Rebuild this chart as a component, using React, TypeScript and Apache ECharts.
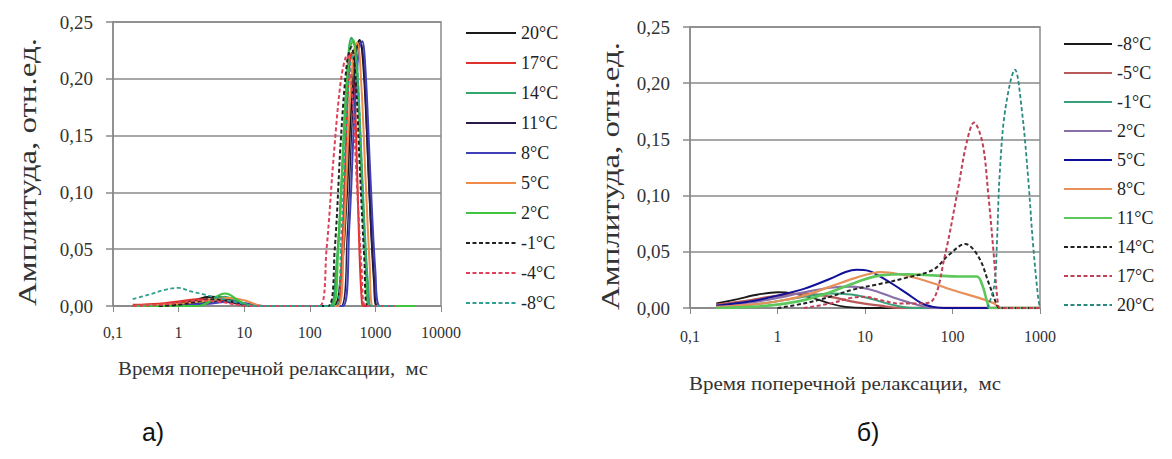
import React, { useEffect, useRef } from 'react';
import * as echarts from 'echarts';

// ---------- Chart а) ----------
const namesA = ['20°C', '17°C', '14°C', '11°C', '8°C', '5°C', '2°C', '-1°C', '-4°C', '-8°C'];
const colorsA = ['#1a1a1a', '#e0302a', '#33a86a', '#2a1a4a', '#4040b8', '#f08a4a', '#3ec43e', '#222222', '#e0405a', '#30a090'];
const dashedA = [false, false, false, false, false, false, false, true, true, true];
const widthA = [2.2, 2, 2.2, 1.4, 2, 2, 2.2, 2, 2, 1.8];

const a20 = [[0.2,0],[0.6,0.001],[1.5,0.004],[3,0.008],[5,0.007],[8,0.003],[14,0],[220,0],[290,0.02],[360,0.09],[430,0.18],[510,0.226],[575,0.234],[650,0.215],[750,0.15],[860,0.07],[960,0.02],[1060,0],[4000,0]];
const a17 = [[0.2,0.001],[0.5,0.002],[1,0.004],[2,0.006],[4,0.005],[8,0.002],[15,0],[260,0],[300,0.03],[340,0.11],[390,0.2],[430,0.223],[470,0.205],[520,0.13],[570,0.05],[620,0.005],[660,0],[4000,0]];
const a14 = [[1,0],[3,0.004],[5,0.008],[8,0.004],[12,0],[200,0],[250,0.03],[300,0.1],[360,0.19],[430,0.236],[500,0.225],[580,0.16],[680,0.07],[790,0.01],[860,0],[4000,0]];
const a11 = [[0.2,0],[2,0.002],[4,0.004],[8,0.002],[15,0],[300,0],[370,0.06],[440,0.16],[520,0.226],[600,0.232],[680,0.2],[800,0.1],[950,0.025],[1080,0],[4000,0]];
const a8 = [[0.2,0],[3,0.002],[6,0.004],[12,0.002],[20,0],[320,0],[400,0.07],[480,0.17],[560,0.226],[630,0.233],[710,0.205],[830,0.12],[1000,0.03],[1180,0],[4000,0]];
const a5 = [[0.2,0],[1,0.002],[3,0.005],[6,0.007],[10,0.005],[20,0],[270,0],[330,0.06],[400,0.17],[470,0.225],[530,0.232],[610,0.195],[710,0.11],[820,0.035],[920,0],[4000,0]];
const a2 = [[0.2,0],[2,0],[3,0.004],[4,0.009],[5,0.011],[6,0.01],[8,0.005],[11,0.001],[15,0],[220,0],[270,0.05],[330,0.15],[400,0.225],[460,0.234],[530,0.2],[620,0.11],[720,0.03],[800,0],[4000,0]];
const aM1 = [[0.5,0],[1,0.001],[2,0.004],[3,0.006],[5,0.005],[8,0.002],[12,0],[190,0],[240,0.05],[300,0.15],[370,0.215],[430,0.228],[500,0.2],[580,0.12],[680,0.04],[760,0],[2000,0]];
const aM4 = [[0.2,0],[0.5,0.001],[1,0.003],[2,0.005],[4,0.004],[8,0.001],[12,0],[140,0],[180,0.05],[230,0.13],[300,0.2],[370,0.221],[440,0.19],[520,0.11],[620,0.03],[700,0],[2000,0]];
const aM8 = [[0.2,0.006],[0.35,0.01],[0.6,0.014],[1,0.016],[1.5,0.013],[2.5,0.01],[4,0.007],[8,0.003],[15,0],[250,0],[300,0.06],[360,0.16],[420,0.215],[490,0.222],[560,0.18],[650,0.09],[760,0.02],[840,0],[2000,0]];
const dataA = [a20, a17, a14, a11, a8, a5, a2, aM1, aM4, aM8];
const ticksA = { min: 0.1, max: 10000 };

// ---------- Chart б) ----------
const namesB = ['-8°C', '-5°C', '-1°C', '2°C', '5°C', '8°C', '11°C', '14°C', '17°C', '20°C'];
const colorsB = ['#1a1a1a', '#b85a58', '#3aa07a', '#8a70a8', '#10109a', '#e8905a', '#5cc85c', '#222222', '#c04058', '#2a8a80'];
const dashedB = [false, false, false, false, false, false, false, true, true, true];
const widthB = [1.8, 2.4, 2, 2.2, 2, 2.2, 2.6, 2, 2, 1.8];

const bM8 = [[0.2,0.004],[0.35,0.008],[0.6,0.012],[1,0.014],[1.5,0.013],[2.5,0.009],[4,0.004],[6,0.001],[10,0],[1000,0]];
const bM5 = [[0.2,0.003],[0.5,0.007],[1,0.011],[2,0.013],[4,0.01],[8,0.005],[15,0.002],[25,0],[1000,0]];
const bM1 = [[0.2,0.001],[0.5,0.003],[1,0.006],[2,0.01],[4,0.013],[7,0.012],[12,0.008],[20,0.003],[35,0],[1000,0]];
const b2 = [[0.2,0.002],[0.5,0.005],[1,0.009],[2,0.014],[4,0.018],[7,0.019],[12,0.016],[20,0.01],[35,0.004],[60,0],[1000,0]];
const b5 = [[0.2,0.002],[0.5,0.006],[1,0.011],[2,0.017],[4,0.026],[6,0.032],[8,0.034],[11,0.033],[15,0.028],[20,0.022],[30,0.013],[45,0.004],[60,0.001],[80,0],[1000,0]];
const b8 = [[0.2,0.001],[0.5,0.003],[1,0.006],[2,0.011],[4,0.019],[8,0.027],[15,0.032],[25,0.03],[50,0.024],[100,0.016],[200,0.009],[300,0.004],[350,0],[1000,0]];
const b11 = [[0.2,0],[0.5,0.001],[1,0.003],[2,0.007],[4,0.014],[8,0.023],[15,0.029],[30,0.03],[60,0.029],[120,0.028],[190,0.028],[220,0.02],[250,0.005],[270,0],[1000,0]];
const b14 = [[1,0],[2,0.004],[4,0.01],[7,0.016],[14,0.021],[30,0.027],[60,0.034],[90,0.047],[140,0.057],[200,0.045],[260,0.022],[320,0.003],[340,0],[1000,0]];
const b17 = [[2,0],[4,0.004],[7,0.009],[10,0.01],[15,0.007],[25,0.004],[40,0.004],[58,0.006],[82,0.047],[115,0.105],[145,0.147],[176,0.165],[220,0.147],[258,0.099],[295,0.049],[330,0.004],[350,0],[1000,0]];
const b20 = [[250,0],[300,0.02],[322,0.058],[345,0.117],[400,0.176],[518,0.212],[620,0.176],[730,0.117],[830,0.058],[950,0.01],[1000,0]];
const dataB = [bM8, bM5, bM1, b2, b5, b8, b11, b14, b17, b20];
const ticksB = { min: 0.1, max: 1000 };

const yTicks = { min: 0, max: 0.25, interval: 0.05 };

const yTitle = 'Амплитуда, отн.ед.';
const xTitle = 'Время поперечной релаксации,  мс';

function measure(text: string, font: string): number {
  const ctx = document.createElement('canvas').getContext('2d')!;
  ctx.font = font;
  return ctx.measureText(text).width;
}

const SERIF = '"Liberation Serif", "Times New Roman", serif';

function buildOption(cfg: any) {
  const yFont = `25px ${SERIF}`;
  const xFont = `19px ${SERIF}`;
  const ySx = cfg.yTitleLen / measure(yTitle, yFont);
  const xSx = cfg.xTitleLen / measure(xTitle, xFont);
  return {
    animation: false,
    backgroundColor: '#ffffff',
    grid: {
      left: cfg.grid.left, top: cfg.grid.top, width: cfg.grid.width, height: cfg.grid.height,
      show: true, borderColor: '#8a8a8a', borderWidth: 1.5, backgroundColor: 'transparent',
    },
    legend: {
      orient: 'vertical',
      left: cfg.legend.left, top: cfg.legend.top, padding: 0,
      itemWidth: cfg.legend.itemWidth, itemHeight: 18, itemGap: cfg.legend.gap,
      data: cfg.names,
      itemStyle: { opacity: 0 },
      textStyle: { fontFamily: SERIF, fontSize: 18, color: '#222', lineHeight: 18 },
      selectedMode: false,
    },
    xAxis: {
      type: 'log', logBase: 10, min: cfg.x.min, max: cfg.x.max,
      axisLine: { show: true, onZero: false, lineStyle: { color: '#8a8a8a', width: 1.5 } },
      axisTick: { show: true, inside: false, length: 6, lineStyle: { color: '#8a8a8a' } },
      minorTick: { show: false },
      splitLine: { show: false },
      axisLabel: {
        margin: cfg.xLabelMargin, fontFamily: SERIF, fontSize: 16, color: '#333',
        formatter: (v: number) => (v < 1 ? String(Number(v.toPrecision(3))).replace('.', ',') : String(Math.round(v))),
      },
    },
    yAxis: {
      type: 'value', min: yTicks.min, max: yTicks.max, interval: yTicks.interval,
      axisLine: { show: true, lineStyle: { color: '#8a8a8a', width: 1.5 } },
      axisTick: { show: true, inside: false, length: 7, lineStyle: { color: '#8a8a8a', width: 1.5 } },
      splitLine: { show: true, lineStyle: { color: '#8a8a8a', width: 1.5 } },
      axisLabel: {
        margin: 20, fontFamily: SERIF, fontSize: 19, color: '#333',
        formatter: (v: number) => v.toFixed(2).replace('.', ','),
      },
    },
    series: cfg.data.map((d: number[][], i: number) => ({
      type: 'line',
      name: cfg.names[i],
      data: d,
      symbol: 'none',
      smooth: 0.35,
      clip: true,
      z: 2 + i,
      color: cfg.colors[i],
      lineStyle: { color: cfg.colors[i], width: cfg.widths[i], type: cfg.dashed[i] ? [4, 2.5] : 'solid' },
    })),
    graphic: [
      {
        type: 'text', x: cfg.yTitle.x, y: cfg.yTitle.y, rotation: Math.PI / 2, scaleX: ySx,
        style: { text: yTitle, font: yFont, fill: '#333', textAlign: 'center', textVerticalAlign: 'middle', align: 'center', verticalAlign: 'middle' },
      },
      {
        type: 'text', x: cfg.xTitle.x, y: cfg.xTitle.y, scaleX: xSx,
        style: { text: xTitle, font: xFont, fill: '#333', textAlign: 'center', textVerticalAlign: 'middle', align: 'center', verticalAlign: 'middle' },
      },
      {
        type: 'text', x: cfg.sub.x, y: cfg.sub.y,
        style: { text: cfg.sub.text, font: '25px "Liberation Sans", Arial, sans-serif', fill: '#111', textAlign: 'center', textVerticalAlign: 'middle', align: 'center', verticalAlign: 'middle' },
      },
    ],
  };
}

const cfgA = {
  names: namesA, colors: colorsA, dashed: dashedA, widths: widthA, data: dataA, x: ticksA,
  grid: { left: 113, top: 22, width: 328, height: 284 },
  legend: { left: 465, top: 24, itemWidth: 50, gap: 12 },
  xLabelMargin: 18,
  yTitle: { x: 27, y: 172, }, yTitleLen: 268,
  xTitle: { x: 273, y: 368 }, xTitleLen: 310,
  sub: { x: 153, y: 432, text: 'а)' },
};
const cfgB = {
  names: namesB, colors: colorsB, dashed: dashedB, widths: widthB, data: dataB, x: ticksB,
  grid: { left: 104, top: 27, width: 350, height: 281 },
  legend: { left: 477, top: 35, itemWidth: 48, gap: 11 },
  xLabelMargin: 20,
  yTitle: { x: 24, y: 176 }, yTitleLen: 268,
  xTitle: { x: 259, y: 383 }, xTitleLen: 312,
  sub: { x: 282, y: 432, text: 'б)' },
};

function Chart({ cfg, left }: { cfg: any; left: number }) {
  const ref = useRef<HTMLDivElement>(null);
  useEffect(() => {
    const chart = echarts.init(ref.current!, undefined, { renderer: 'svg' });
    chart.setOption(buildOption(cfg));
    return () => chart.dispose();
  }, [cfg]);
  return <div ref={ref} style={{ position: 'absolute', left, top: 0, width: 586, height: 459 }} />;
}

export default function App() {
  return (
    <div style={{ position: 'fixed', left: 0, top: 0, width: 1172, height: 459, background: '#fff' }}>
      <Chart cfg={cfgA} left={0} />
      <Chart cfg={cfgB} left={586} />
    </div>
  );
}
